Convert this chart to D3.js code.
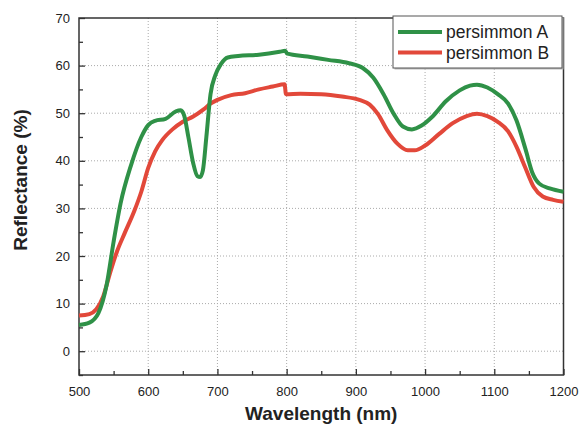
<!DOCTYPE html>
<html>
<head>
<meta charset="utf-8">
<script src="https://cdn.jsdelivr.net/npm/d3@7"></script>
<style>
  body { margin: 0; background: #fff; }
  text { font-family: "Liberation Sans", Arial, sans-serif; fill: #222; }
</style>
</head>
<body>
<svg width="581" height="425"></svg>
<script>
// wavelength (nm) sample points
const nmA = [500, 515, 528, 540, 550, 560, 575, 590, 600, 610, 625, 640, 647, 652, 658, 665, 671, 675, 679, 684, 690, 697, 705, 715, 730, 760, 790, 798, 801, 830, 860, 890, 910, 925, 940, 955, 968, 981, 995, 1010, 1030, 1050, 1065, 1075, 1090, 1105, 1120, 1132, 1145, 1155, 1165, 1180, 1200]
const reflA = [5.5, 6, 8, 14, 23, 31, 39, 45, 47.5, 48.4, 48.8, 50.4, 50.6, 49.5, 45, 39.5, 36.8, 36.6, 38, 45, 54, 58, 60.3, 61.7, 62, 62.3, 62.9, 63.1, 62.5, 61.9, 61.2, 60.5, 59.5, 57.5, 54, 49.8, 47.2, 46.6, 47.4, 49.2, 52.5, 54.8, 55.8, 56, 55.4, 54, 52, 48.5, 42.5, 37.5, 35.2, 34.2, 33.5]

const nmB = [500, 515, 525, 535, 545, 555, 566, 580, 590, 600, 610, 620, 635, 650, 665, 680, 690, 700, 720, 740, 760, 780, 797, 799, 820, 850, 880, 905, 920, 932, 945, 960, 975, 985, 1000, 1020, 1040, 1060, 1075, 1090, 1105, 1120, 1132, 1145, 1157, 1170, 1185, 1200]
const reflB = [7.5, 7.8, 8.8, 11.5, 16.5, 21, 24.8, 29.5, 33.5, 38.5, 42, 44.3, 46.6, 48.2, 49.3, 50.8, 52, 52.8, 53.8, 54.2, 55, 55.6, 56.1, 54, 54.1, 54, 53.5, 52.8, 51.8, 49.8, 46.5, 43.6, 42.2, 42.2, 43.2, 45.6, 47.9, 49.4, 49.9, 49.4, 48.2, 46.2, 43, 38.5, 34.5, 32.5, 31.8, 31.4]

const seriesNames = ["persimmon A", "persimmon B"]
const seriesColors = ["#2f9147", "#e2483a"]
const xTicks = [500, 600, 700, 800, 900, 1000, 1100, 1200]
const yTicks = [0, 10, 20, 30, 40, 50, 60, 70]

const svg = d3.select("svg")
const margin = {top: 18, right: 18, bottom: 50, left: 79}
const innerW = 563.5 - margin.left
const innerH = 375 - margin.top

const x = d3.scaleLinear().domain([500, 1200]).range([0, innerW])
const y = d3.scaleLinear().domain([-5, 70]).range([innerH, 0])

const g = svg.append("g").attr("transform", `translate(${margin.left},${margin.top})`)

// dotted grid
g.append("g").selectAll("line")
    .data(xTicks.filter(d => d > 500 && d < 1200))
    .join("line")
    .attr("x1", d => x(d)).attr("x2", d => x(d))
    .attr("y1", 0).attr("y2", innerH)
    .attr("stroke", "#aaa").attr("stroke-width", 1)
    .attr("stroke-dasharray", "1,2")
g.append("g").selectAll("line")
    .data(yTicks.filter(d => d < 70))
    .join("line")
    .attr("y1", d => y(d)).attr("y2", d => y(d))
    .attr("x1", 0).attr("x2", innerW)
    .attr("stroke", "#aaa").attr("stroke-width", 1)
    .attr("stroke-dasharray", "1,2")

// axes (ticks pointing inward)
const xAxis = d3.axisBottom(x).tickValues(xTicks).tickFormat(d3.format("d")).tickSizeInner(-6).tickSizeOuter(0).tickPadding(12)
const xMinor = d3.axisBottom(x).tickValues(d3.range(550, 1200, 100)).tickSizeInner(-4).tickSizeOuter(0).tickFormat("")
const yAxis = d3.axisLeft(y).tickValues(yTicks).tickSizeInner(-6).tickSizeOuter(0).tickPadding(9)
const yMinor = d3.axisLeft(y).tickValues(d3.range(-5, 70, 10)).tickSizeInner(-4).tickSizeOuter(0).tickFormat("")

const styleAxis = sel => {
    sel.selectAll(".domain").remove()
    sel.selectAll(".tick line").attr("stroke", "#333").attr("stroke-width", 1.3)
    sel.selectAll(".tick text").style("font-size", "13px").attr("fill", "#222")
}
g.append("g").attr("transform", `translate(0,${innerH})`).call(xAxis).call(styleAxis)
g.append("g").attr("transform", `translate(0,${innerH})`).call(xMinor).call(styleAxis)
g.append("g").call(yAxis).call(styleAxis)
g.append("g").call(yMinor).call(styleAxis)

// frame
g.append("rect")
    .attr("width", innerW).attr("height", innerH)
    .attr("fill", "none").attr("stroke", "#333").attr("stroke-width", 1.5)

// curves
const line = d3.line()
    .x(d => x(d[0]))
    .y(d => y(d[1]))
    .curve(d3.curveMonotoneX)

const series = [d3.zip(nmA, reflA), d3.zip(nmB, reflB)]
// draw B first so A sits on top
;[1, 0].forEach(i => {
    g.append("path")
        .datum(series[i])
        .attr("d", line)
        .attr("fill", "none")
        .attr("stroke", seriesColors[i])
        .attr("stroke-width", 4)
        .attr("stroke-linejoin", "round")
})

// legend
const legend = svg.append("g").attr("transform", "translate(393,16)")
legend.append("rect")
    .attr("x", 1.5).attr("y", 1.5)
    .attr("width", 169).attr("height", 52)
    .attr("fill", "#bbb")
legend.append("rect")
    .attr("width", 169).attr("height", 52)
    .attr("fill", "#fff").attr("stroke", "#555").attr("stroke-width", 1)
seriesNames.forEach((name, i) => {
    const ly = 16 + i * 20.5
    legend.append("line")
        .attr("x1", 5).attr("x2", 49)
        .attr("y1", ly).attr("y2", ly)
        .attr("stroke", seriesColors[i]).attr("stroke-width", 4)
    legend.append("text")
        .attr("x", 53).attr("y", ly + 6)
        .style("font-size", "17.5px")
        .text(name)
})

// axis titles
svg.append("text")
    .attr("x", margin.left + innerW / 2).attr("y", 420)
    .attr("text-anchor", "middle")
    .style("font-size", "19px").style("font-weight", "bold")
    .text("Wavelength (nm)")

svg.append("text")
    .attr("transform", "translate(27,180) rotate(-90)")
    .attr("text-anchor", "middle")
    .style("font-size", "19px").style("font-weight", "bold")
    .text("Reflectance (%)")
</script>
</body>
</html>
